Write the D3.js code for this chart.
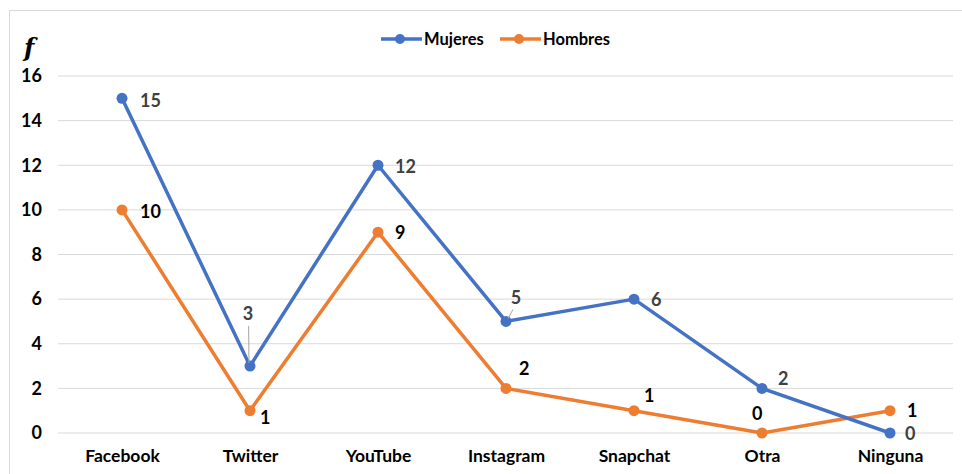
<!DOCTYPE html>
<html>
<head>
<meta charset="utf-8">
<script src="https://cdn.jsdelivr.net/npm/d3@7"></script>
<style>
  body { margin: 0; background: #fff; }
  text { font-family: Lato, "Open Sans", sans-serif; }
</style>
</head>
<body>
<div id="chart"></div>
<script>
// Data
const categories = ["Facebook", "Twitter", "YouTube", "Instagram", "Snapchat", "Otra", "Ninguna"];
const mujeres = [15, 3, 12, 5, 6, 2, 0];
const hombres = [10, 1, 9, 2, 1, 0, 1];
const yTicks = [0, 2, 4, 6, 8, 10, 12, 14, 16];

// Label placement (dx, dy from point, optional leader line)
const mujOffsets = [[18, 2], [-2, -52, true], [17, 1], [10, -24, true], [17, 1], [16, -10], [15, 1]];
const homOffsets = [[18, 2], [10, 7], [17, 1], [13, -20], [10, -15], [-10, -19], [17, 0]];

const width = 962, height = 474;
const margin = {top: 76, right: 8, bottom: 41, left: 58};

const svg = d3.select("#chart")
    .append("svg")
    .attr("width", width)
    .attr("height", height);

// chart border
svg.append("rect")
    .attr("x", 9.5).attr("y", 10.5)
    .attr("width", width).attr("height", height)
    .attr("fill", "none")
    .attr("stroke", "#d9d9d9");

const x = d3.scalePoint()
    .domain(categories)
    .range([margin.left, width - margin.right])
    .padding(0.5);

const y = d3.scaleLinear()
    .domain([0, 16])
    .range([height - margin.bottom, margin.top]);

// gridlines
svg.append("g")
    .selectAll("line")
    .data(yTicks)
    .join("line")
    .attr("x1", margin.left)
    .attr("x2", width - margin.right - 1)
    .attr("y1", d => y(d))
    .attr("y2", d => y(d))
    .attr("stroke", "#d9d9d9")
    .attr("stroke-width", 1);

// Y axis
const yAxis = svg.append("g")
    .attr("transform", `translate(${margin.left}, 0)`)
    .call(d3.axisLeft(y).tickValues(yTicks).tickSize(0).tickPadding(16));
yAxis.select(".domain").remove();
yAxis.selectAll("text")
    .attr("font-family", "Lato, sans-serif")
    .attr("font-size", 18)
    .attr("font-weight", "bold")
    .attr("fill", "#000");

// X axis
const xAxis = svg.append("g")
    .attr("transform", `translate(0, ${y(0)})`)
    .call(d3.axisBottom(x).tickSize(0).tickPadding(17));
xAxis.select(".domain").remove();
xAxis.selectAll("text")
    .attr("font-family", "Lato, sans-serif")
    .attr("font-size", 17.5)
    .attr("font-weight", "bold")
    .attr("fill", "#000");

// f axis title
svg.append("text")
    .attr("x", 24)
    .attr("y", 56)
    .style("font-family", "'DejaVu Serif', serif")
    .style("font-style", "italic")
    .style("font-weight", "bold")
    .style("font-size", "24px")
    .text("f");

const line = d3.line()
    .x((d, i) => x(categories[i]))
    .y(d => y(d));

const series = [
    {name: "Mujeres", values: mujeres, color: "#4472C4", labelColor: "#404040", offsets: mujOffsets},
    {name: "Hombres", values: hombres, color: "#ED7D31", labelColor: "#000", offsets: homOffsets}
];

// draw Hombres first so Mujeres sits on top
series.slice().reverse().forEach(s => {
    svg.append("path")
        .datum(s.values)
        .attr("fill", "none")
        .attr("stroke", s.color)
        .attr("stroke-width", 3.5)
        .attr("stroke-linejoin", "round")
        .attr("d", line);

    svg.append("g")
        .selectAll("circle")
        .data(s.values)
        .join("circle")
        .attr("cx", (d, i) => x(categories[i]))
        .attr("cy", d => y(d))
        .attr("r", 5.5)
        .attr("fill", s.color);
});

// data labels
series.forEach(s => {
    const g = svg.append("g");
    s.values.forEach((v, i) => {
        const px = x(categories[i]), py = y(v);
        const [dx, dy, leader] = s.offsets[i];
        if (leader) {
            const ex = px + dx * 0.7, ey = py + dy + 12;
            g.append("line")
                .attr("x1", px + (dx > 2 ? 2 : -1)).attr("y1", py - 3)
                .attr("x2", ex).attr("y2", ey)
                .attr("stroke", "#a6a6a6")
                .attr("stroke-width", 1);
        }
        g.append("text")
            .attr("x", px + dx)
            .attr("y", py + dy)
            .attr("dy", "0.35em")
            .attr("text-anchor", leader ? "middle" : "start")
            .attr("font-size", 18)
            .attr("font-weight", "bold")
            .attr("fill", s.labelColor)
            .text(v);
    });
});

// legend
const legend = svg.append("g").attr("transform", "translate(381, 39)");
const legendX = [0, 119];
series.forEach((s, i) => {
    const lg = legend.append("g").attr("transform", `translate(${legendX[i]}, 0)`);
    lg.append("line")
        .attr("x1", 0).attr("x2", 41)
        .attr("stroke", s.color)
        .attr("stroke-width", 3.5);
    lg.append("circle")
        .attr("cx", 19).attr("r", 5)
        .attr("fill", s.color);
    lg.append("text")
        .attr("x", 43)
        .attr("dy", "0.35em")
        .attr("font-size", 16.5)
        .attr("font-weight", "bold")
        .attr("fill", "#000")
        .text(s.name);
});
</script>
</body>
</html>
